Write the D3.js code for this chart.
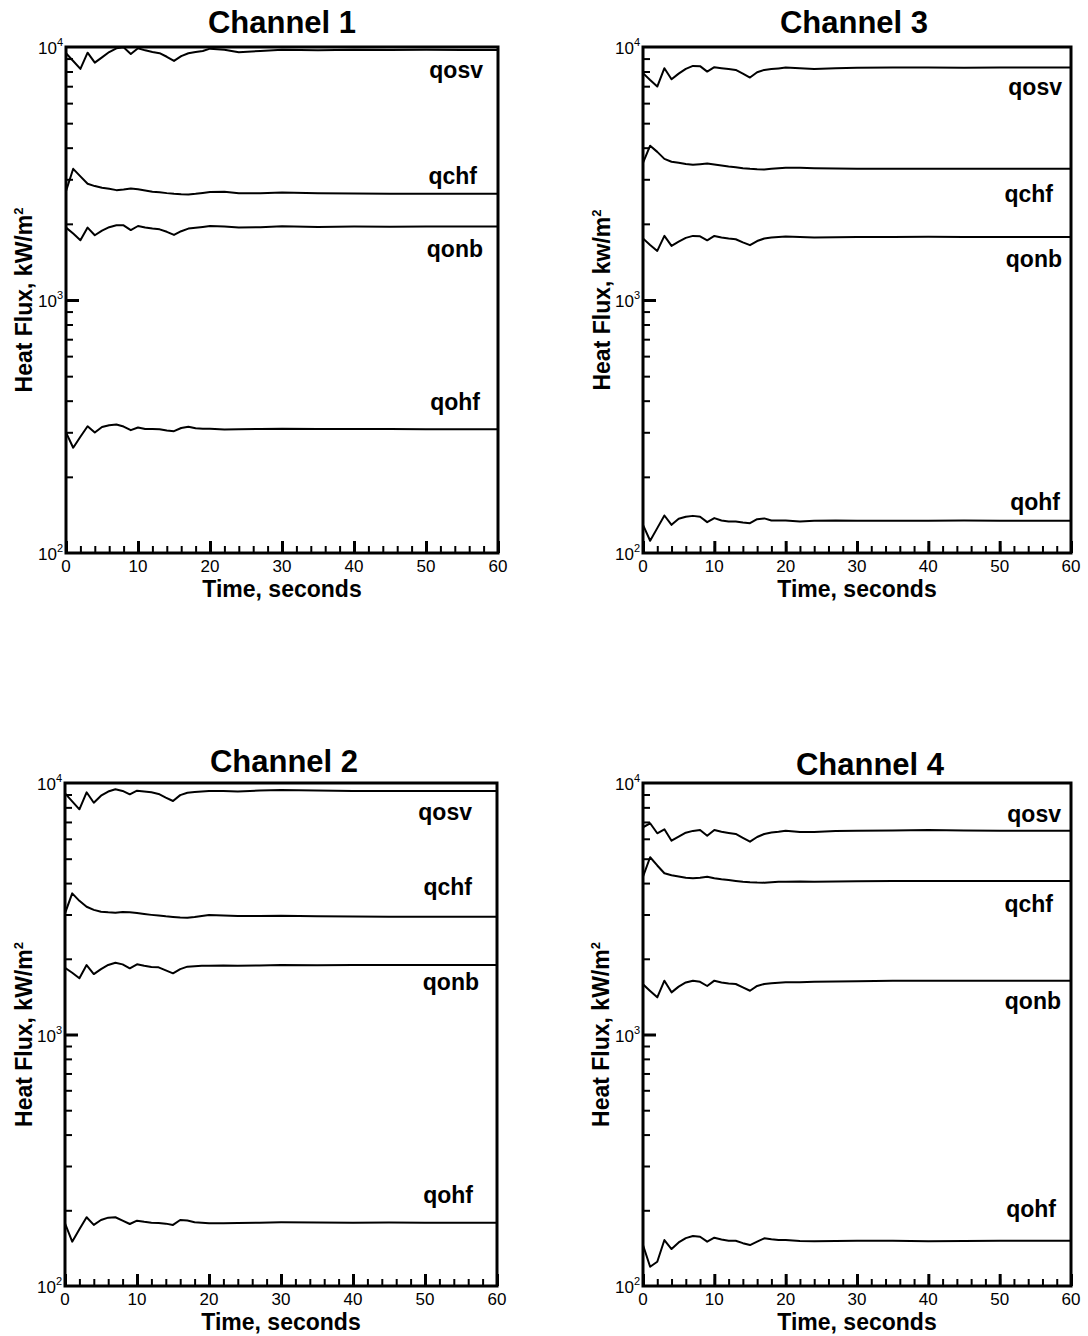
<!DOCTYPE html>
<html>
<head>
<meta charset="utf-8">
<script src="https://cdn.jsdelivr.net/npm/d3@7"></script>
<style>
body { margin: 0; background: #fff; }
svg { display: block; font-family: "Liberation Sans", Arial, Helvetica, sans-serif; }
</style>
</head>
<body>
<script>
// time grid, seconds
var time = [0,1,2,3,4,5,6,7,8,9,10,11,12,13,14,15,16,17,18,19,20,22,24,27,30,35,40,45,50,55,60];

var seriesNames = ["qosv", "qchf", "qonb", "qohf"];

// Channel 1 heat flux, kW/m2
var ch1Qosv = [9445,8800,8190,9495,8674,9100,9550,9880,9970,9385,9880,9700,9550,9450,9150,8810,9200,9445,9550,9644,9850,9750,9530,9650,9750,9700,9750,9720,9760,9730,9730];
var ch1Qchf = [2693,3300,3080,2880,2820,2780,2750,2718,2735,2761,2740,2710,2680,2665,2645,2630,2620,2614,2630,2650,2670,2679,2640,2645,2660,2640,2635,2632,2631,2631,2631];
var ch1Qonb = [1933,1830,1722,1933,1803,1880,1940,1973,1973,1890,1961,1935,1915,1902,1860,1808,1870,1915,1930,1945,1961,1950,1933,1940,1955,1945,1950,1948,1951,1951,1951];
var ch1Qohf = [299.5,260.7,288,317,299.5,315,320,322,316,305.8,313.5,309,309,308.7,305,303.1,312,315.4,311,310,310,307.8,308.7,309,310,309,309,309,308.7,308.7,308.7];

// Channel 2
var ch2Qosv = [9100,8450,7860,9184,8348,8900,9250,9440,9300,9018,9319,9250,9184,9050,8750,8480,8950,9150,9200,9250,9294,9300,9250,9330,9380,9330,9300,9300,9294,9294,9294];
var ch2Qchf = [3033,3641,3400,3221,3130,3077,3060,3049,3070,3060,3040,3013,2990,2970,2950,2935,2920,2913,2930,2960,2985,2975,2960,2960,2967,2950,2945,2940,2940,2940,2940];
var ch2Qonb = [1843,1760,1673,1889,1739,1820,1890,1929,1900,1833,1901,1875,1855,1850,1800,1751,1820,1861,1870,1875,1878,1880,1875,1882,1890,1885,1889,1889,1889,1889,1889];
var ch2Qohf = [177.6,150.1,168,187.7,175,183,187,187.7,182,176.4,181.9,180,178.6,178,177,174.9,183,182,179.2,178.6,177.6,177.6,178.2,178.6,179.2,179,178.6,178.8,178.6,178.6,178.6];

// Channel 3
var ch3Qosv = [7880,7400,6978,8245,7461,7850,8200,8417,8400,7994,8320,8250,8180,8118,7850,7571,7950,8118,8180,8230,8290,8250,8193,8250,8280,8290,8300,8280,8290,8290,8290];
var ch3Qchf = [3484,4074,3850,3613,3520,3484,3450,3422,3440,3463,3430,3400,3370,3350,3320,3300,3285,3280,3300,3320,3335,3331,3320,3310,3305,3303,3302,3301,3301,3301,3301];
var ch3Qonb = [1750,1650,1563,1792,1636,1700,1760,1792,1785,1722,1792,1765,1750,1738,1690,1647,1710,1750,1765,1775,1781,1775,1765,1770,1775,1775,1778,1774,1774,1774,1774];
var ch3Qohf = [129.2,111.8,125.4,140.7,129.2,136.5,139,140.2,139,132.4,137.4,134.5,133.3,133.3,132,131.2,136,137,134.5,134.5,134.5,133.3,134,134.5,134,134.2,134,134.3,134,134,134];

// Channel 4
var ch4Qosv = [6668,6916,6310,6547,5897,6120,6344,6450,6505,6172,6505,6400,6330,6270,6050,5843,6100,6270,6350,6400,6463,6380,6380,6440,6460,6480,6500,6470,6463,6463,6463];
var ch4Qchf = [4240,5066,4700,4375,4300,4250,4200,4178,4200,4240,4180,4140,4113,4080,4050,4030,4020,4016,4030,4045,4053,4060,4050,4060,4070,4075,4079,4079,4079,4079,4079];
var ch4Qonb = [1584,1490,1405,1637,1471,1550,1610,1637,1620,1559,1637,1610,1595,1588,1540,1493,1560,1588,1600,1607,1612,1615,1620,1625,1630,1635,1637,1637,1637,1637,1637];
var ch4Qohf = [145.5,119.3,124.9,152.3,140.3,149,155,158,157,150.1,155.6,153,151.4,151.4,148,145.5,150,154.7,153.3,152.3,152.3,151,150.5,151,151.4,151.4,150.5,151,151.4,151.4,151.4];

var xTicks = [0,10,20,30,40,50,60];
var yDecades = [100, 1000, 10000];

// layout of the four panels (labels: [distance from right edge, offset from line end])
var panels = [
    { title: "Channel 1", unit: "kW/m", series: [ch1Qosv, ch1Qchf, ch1Qonb, ch1Qohf],
      left: 66, top: 47, right: 498, bottom: 553, titleX: 282, titleY: 33, labelX: 32,
      labels: [[15, 28], [21, -10], [15, 30], [18, -19]] },
    { title: "Channel 3", unit: "kw/m", series: [ch3Qosv, ch3Qchf, ch3Qonb, ch3Qohf],
      left: 643, top: 47, right: 1071, bottom: 553, titleX: 854, titleY: 33, labelX: 610,
      labels: [[9, 27], [18, 33], [9, 30], [11, -11]] },
    { title: "Channel 2", unit: "kW/m", series: [ch2Qosv, ch2Qchf, ch2Qonb, ch2Qohf],
      left: 65, top: 783, right: 497, bottom: 1286, titleX: 284, titleY: 772, labelX: 32,
      labels: [[25, 29], [25, -22], [18, 25], [24, -20]] },
    { title: "Channel 4", unit: "kW/m", series: [ch4Qosv, ch4Qchf, ch4Qonb, ch4Qohf],
      left: 643, top: 783, right: 1071, bottom: 1286, titleX: 870, titleY: 775, labelX: 609,
      labels: [[10, -9], [18, 31], [10, 28], [15, -24]] }
];

var svg = d3.select("body").append("svg")
    .attr("width", 1088)
    .attr("height", 1336);

panels.forEach(function(p, pi) {
    var w = p.right - p.left,
        h = p.bottom - p.top;

    var x = d3.scaleLinear().domain([0, 60]).range([0, w]);
    var y = d3.scaleLog().domain([100, 10000]).range([h, 0]);

    var g = svg.append("g")
        .attr("transform", "translate(" + p.left + "," + p.top + ")");

    // clip so the top curve stays inside the frame
    g.append("clipPath")
        .attr("id", "clip" + pi)
        .append("rect")
        .attr("width", w)
        .attr("height", h);

    // minor ticks on the left (inside)
    var minorY = [];
    [100, 1000].forEach(function(d) {
        for (var k = 2; k <= 9; k++) minorY.push(d * k);
    });
    g.append("g")
        .call(d3.axisLeft(y).tickValues(minorY).tickSize(-7).tickFormat(""))
        .call(function(s) { s.select(".domain").remove(); })
        .selectAll("line").attr("stroke-width", 2);

    g.append("g")
        .call(d3.axisLeft(y).tickValues([1000]).tickSize(-13).tickFormat(""))
        .call(function(s) { s.select(".domain").remove(); })
        .selectAll("line").attr("stroke-width", 3);

    // bottom ticks: every 2 s minor, every 10 s major
    g.append("g")
        .attr("transform", "translate(0," + h + ")")
        .call(d3.axisBottom(x).tickValues(d3.range(0, 61, 2)).tickSize(-7).tickFormat(""))
        .call(function(s) { s.select(".domain").remove(); })
        .selectAll("line").attr("stroke-width", 2);

    g.append("g")
        .attr("transform", "translate(0," + h + ")")
        .call(d3.axisBottom(x).tickValues(xTicks).tickSize(-12).tickFormat(""))
        .call(function(s) { s.select(".domain").remove(); })
        .selectAll("line").attr("stroke-width", 3);

    // x tick labels
    g.selectAll("text.xlab")
        .data(xTicks)
        .enter()
        .append("text")
        .attr("class", "xlab")
        .attr("x", function(d) { return x(d); })
        .attr("y", h + 19)
        .attr("text-anchor", "middle")
        .attr("font-size", "17px")
        .text(function(d) { return d; });

    // y decade labels, 10 with superscript
    var ylab = g.selectAll("text.ylab")
        .data(yDecades)
        .enter()
        .append("text")
        .attr("class", "ylab")
        .attr("x", -3)
        .attr("y", function(d) { return y(d) + 7; })
        .attr("text-anchor", "end")
        .attr("font-size", "17px");
    ylab.append("tspan").text("10");
    ylab.append("tspan")
        .attr("font-size", "11px")
        .attr("dy", -8)
        .text(function(d) { return Math.round(Math.log10(d)); });

    // data lines
    var line = d3.line()
        .x(function(d, i) { return x(time[i]); })
        .y(function(d) { return y(d); });

    g.append("g")
        .attr("clip-path", "url(#clip" + pi + ")")
        .selectAll("path")
        .data(p.series)
        .enter()
        .append("path")
        .attr("d", line)
        .attr("fill", "none")
        .attr("stroke", "#000")
        .attr("stroke-width", 2)
        .attr("stroke-linejoin", "round");

    // series names next to the lines
    g.selectAll("text.sname")
        .data(p.series)
        .enter()
        .append("text")
        .attr("class", "sname")
        .attr("x", function(d, i) { return w - p.labels[i][0]; })
        .attr("y", function(d, i) { return y(d[d.length - 1]) + p.labels[i][1]; })
        .attr("text-anchor", "end")
        .attr("font-size", "23px")
        .attr("font-weight", "bold")
        .text(function(d, i) { return seriesNames[i]; });

    // frame
    g.append("rect")
        .attr("width", w)
        .attr("height", h)
        .attr("fill", "none")
        .attr("stroke", "#000")
        .attr("stroke-width", 3);

    // title
    svg.append("text")
        .attr("x", p.titleX)
        .attr("y", p.titleY)
        .attr("text-anchor", "middle")
        .attr("font-size", "31px")
        .attr("font-weight", "bold")
        .text(p.title);

    // x axis title
    g.append("text")
        .attr("x", w / 2)
        .attr("y", h + 44)
        .attr("text-anchor", "middle")
        .attr("font-size", "23px")
        .attr("font-weight", "bold")
        .text("Time, seconds");

    // y axis title
    var yt = svg.append("text")
        .attr("transform", "translate(" + p.labelX + "," + (p.top + h / 2) + ") rotate(-90)")
        .attr("text-anchor", "middle")
        .attr("font-size", "23px")
        .attr("font-weight", "bold");
    yt.append("tspan").text("Heat Flux, " + p.unit);
    yt.append("tspan")
        .attr("font-size", "13px")
        .attr("dy", -9)
        .text("2");
});
</script>
</body>
</html>
